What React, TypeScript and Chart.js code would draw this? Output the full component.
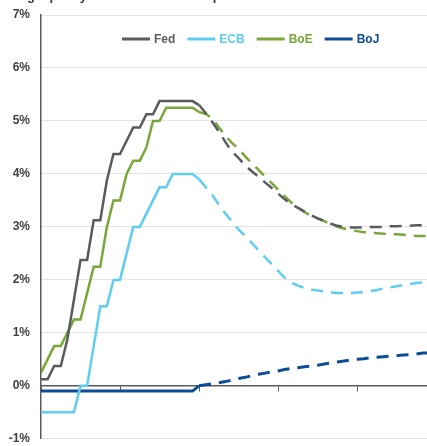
import React, { useEffect, useRef } from 'react';
import { Chart, registerables } from 'chart.js';

Chart.register(...registerables);

const TITLE_PREFIX = 'Central bank tightening – ';
const TITLE = TITLE_PREFIX + 'policy rates and market expectations';

const MONTHS = [
  'Jan 22', 'Feb 22', 'Mar 22', 'Apr 22', 'May 22', 'Jun 22', 'Jul 22', 'Aug 22', 'Sep 22', 'Oct 22', 'Nov 22', 'Dec 22',
  'Jan 23', 'Feb 23', 'Mar 23', 'Apr 23', 'May 23', 'Jun 23', 'Jul 23', 'Aug 23', 'Sep 23', 'Oct 23', 'Nov 23', 'Dec 23',
  'Jan 24', 'Feb 24', 'Mar 24', 'Apr 24', 'May 24', 'Jun 24', 'Jul 24', 'Aug 24', 'Sep 24', 'Oct 24', 'Nov 24', 'Dec 24',
  'Jan 25', 'Feb 25', 'Mar 25', 'Apr 25', 'May 25', 'Jun 25', 'Jul 25', 'Aug 25', 'Sep 25', 'Oct 25', 'Nov 25', 'Dec 25',
  'Jan 26', 'Feb 26', 'Mar 26', 'Apr 26', 'May 26', 'Jun 26', 'Jul 26', 'Aug 26', 'Sep 26', 'Oct 26', 'Nov 26', 'Dec 26',
];

const FORECAST_START = 24;

const FED = [
  0.125, 0.125, 0.375, 0.375, 0.875, 1.625, 2.375, 2.375, 3.125, 3.125, 3.875, 4.375,
  4.375, 4.625, 4.875, 4.875, 5.125, 5.125, 5.375, 5.375, 5.375, 5.375, 5.375, 5.375,
  5.3, 5.15, 4.98, 4.8, 4.6, 4.42, 4.3, 4.16, 4.05, 3.95, 3.84, 3.74,
  3.63, 3.52, 3.43, 3.36, 3.29, 3.22, 3.16, 3.11, 3.06, 3.02, 3.0, 2.99,
  2.99, 2.99, 3.0, 3.0, 3.0, 3.01, 3.01, 3.02, 3.02, 3.03, 3.03, 3.04,
];

const ECB = [
  -0.5, -0.5, -0.5, -0.5, -0.5, -0.5, 0, 0, 0.75, 1.5, 1.5, 2.0,
  2.0, 2.5, 3.0, 3.0, 3.25, 3.5, 3.75, 3.75, 4.0, 4.0, 4.0, 4.0,
  3.9, 3.75, 3.6, 3.42, 3.25, 3.1, 2.95, 2.83, 2.7, 2.56, 2.43, 2.3,
  2.17, 2.04, 1.95, 1.89, 1.85, 1.82, 1.8, 1.78, 1.76, 1.75, 1.75, 1.75,
  1.76, 1.77, 1.79, 1.81, 1.84, 1.86, 1.88, 1.9, 1.92, 1.94, 1.95, 1.96,
];

const BOE = [
  0.25, 0.5, 0.75, 0.75, 1.0, 1.25, 1.25, 1.75, 2.25, 2.25, 3.0, 3.5,
  3.5, 4.0, 4.25, 4.25, 4.5, 5.0, 5.0, 5.25, 5.25, 5.25, 5.25, 5.25,
  5.17, 5.13, 5.05, 4.88, 4.72, 4.58, 4.48, 4.33, 4.2, 4.08, 3.95, 3.83,
  3.7, 3.58, 3.46, 3.37, 3.28, 3.21, 3.16, 3.11, 3.05, 3.0, 2.97, 2.94,
  2.92, 2.9, 2.89, 2.88, 2.87, 2.86, 2.86, 2.85, 2.84, 2.83, 2.83, 2.82,
];

const BOJ = [
  -0.1, -0.1, -0.1, -0.1, -0.1, -0.1, -0.1, -0.1, -0.1, -0.1, -0.1, -0.1,
  -0.1, -0.1, -0.1, -0.1, -0.1, -0.1, -0.1, -0.1, -0.1, -0.1, -0.1, -0.1,
  0.0, 0.02, 0.04, 0.06, 0.08, 0.11, 0.14, 0.16, 0.19, 0.22, 0.24, 0.26,
  0.28, 0.31, 0.33, 0.34, 0.36, 0.37, 0.39, 0.41, 0.43, 0.45, 0.47, 0.49,
  0.5, 0.51, 0.53, 0.54, 0.55, 0.56, 0.57, 0.58, 0.59, 0.6, 0.62, 0.62,
];

const SERIES = [
  { label: 'Fed', data: FED, color: '#5a5b5d' },
  { label: 'ECB', data: ECB, color: '#5fcdf2' },
  { label: 'BoE', data: BOE, color: '#7aa737' },
  { label: 'BoJ', data: BOJ, color: '#0d4d97' },
];

const Y_MIN = -1;
const Y_MAX = 7;
const X_MAX = 58.6;
const DASH = [12, 8];
const FONT = "'Liberation Sans', Arial, Helvetica, sans-serif";

const titlePlugin = {
  id: 'croppedTitle',
  afterDraw(chart: any) {
    const { ctx } = chart;
    ctx.save();
    ctx.font = `bold 13px ${FONT}`;
    ctx.fillStyle = '#3a3a3a';
    ctx.textBaseline = 'alphabetic';
    ctx.textAlign = 'left';
    const x0 = 49.5 - ctx.measureText(TITLE_PREFIX).width;
    ctx.fillText(TITLE, x0, -0.5);
    ctx.restore();
  },
};

const legendPlugin = {
  id: 'insideLegend',
  afterDraw(chart: any) {
    const { ctx, chartArea } = chart;
    ctx.save();
    ctx.font = `bold 12px ${FONT}`;
    ctx.textBaseline = 'middle';
    ctx.textAlign = 'left';
    let x = chartArea.left + 81;
    const y = chartArea.top + 24;
    chart.data.datasets.forEach((ds: any) => {
      ctx.strokeStyle = ds.borderColor;
      ctx.lineWidth = 3;
      ctx.beginPath();
      ctx.moveTo(x, y);
      ctx.lineTo(x + 28, y);
      ctx.stroke();
      ctx.fillStyle = ds.borderColor;
      ctx.fillText(ds.label, x + 32, y + 0.5);
      x += 32 + ctx.measureText(ds.label).width + 12;
    });
    ctx.restore();
  },
};

export default function App() {
  const canvasRef = useRef<HTMLCanvasElement | null>(null);

  useEffect(() => {
    if (!canvasRef.current) return;
    Chart.defaults.font.family = FONT;
    const chart = new Chart(canvasRef.current, {
      type: 'line',
      data: {
        labels: MONTHS,
        datasets: SERIES.map((s) => ({
          label: s.label,
          data: s.data.map((v, i) => ({ x: i, y: v })),
          borderColor: s.color,
          backgroundColor: s.color,
          borderWidth: s.label === 'BoJ' ? 3 : 2.5,
          pointRadius: 0,
          tension: 0,
          fill: false,
          borderCapStyle: 'butt',
          segment: {
            borderDash: (ctx: any) => (ctx.p0DataIndex >= FORECAST_START ? DASH : undefined),
          },
        })),
      },
      options: {
        animation: false,
        responsive: false,
        layout: { padding: { top: 15, bottom: 7, left: 0, right: 0 } },
        plugins: {
          legend: { display: false },
          tooltip: { enabled: false },
          title: { display: false },
        },
        scales: {
          x: {
            type: 'linear',
            min: 0,
            max: X_MAX,
            position: { y: 0 },
            ticks: { display: false, stepSize: 12, includeBounds: false },
            grid: {
              drawOnChartArea: false,
              drawTicks: true,
              tickLength: 5,
              color: '#5a5a5a',
              lineWidth: 1,
            },
            border: { color: '#5a5a5a', width: 1.5 },
            afterFit: (scale: any) => {
              scale.height = 0;
            },
          },
          y: {
            min: Y_MIN,
            max: Y_MAX,
            ticks: {
              stepSize: 1,
              padding: 0,
              color: '#404040',
              font: { size: 12, weight: 'bold', family: FONT },
              callback: (v: any) => `${v}%`,
            },
            grid: {
              drawTicks: true,
              tickLength: 11,
              tickColor: 'rgba(0,0,0,0)',
              color: (ctx: any) => (ctx.tick && ctx.tick.value === 0 ? 'rgba(0,0,0,0)' : '#e4e4e4'),
              lineWidth: 1,
            },
            border: { color: '#5a5a5a', width: 1.5 },
            afterFit: (scale: any) => {
              scale.width = 41;
            },
          },
        },
      } as any,
      plugins: [titlePlugin, legendPlugin],
    });
    return () => chart.destroy();
  }, []);

  return (
    <div style={{ position: 'absolute', left: 0, top: 0, width: 427, height: 446 }}>
      <canvas ref={canvasRef} width={427} height={446} />
    </div>
  );
}
